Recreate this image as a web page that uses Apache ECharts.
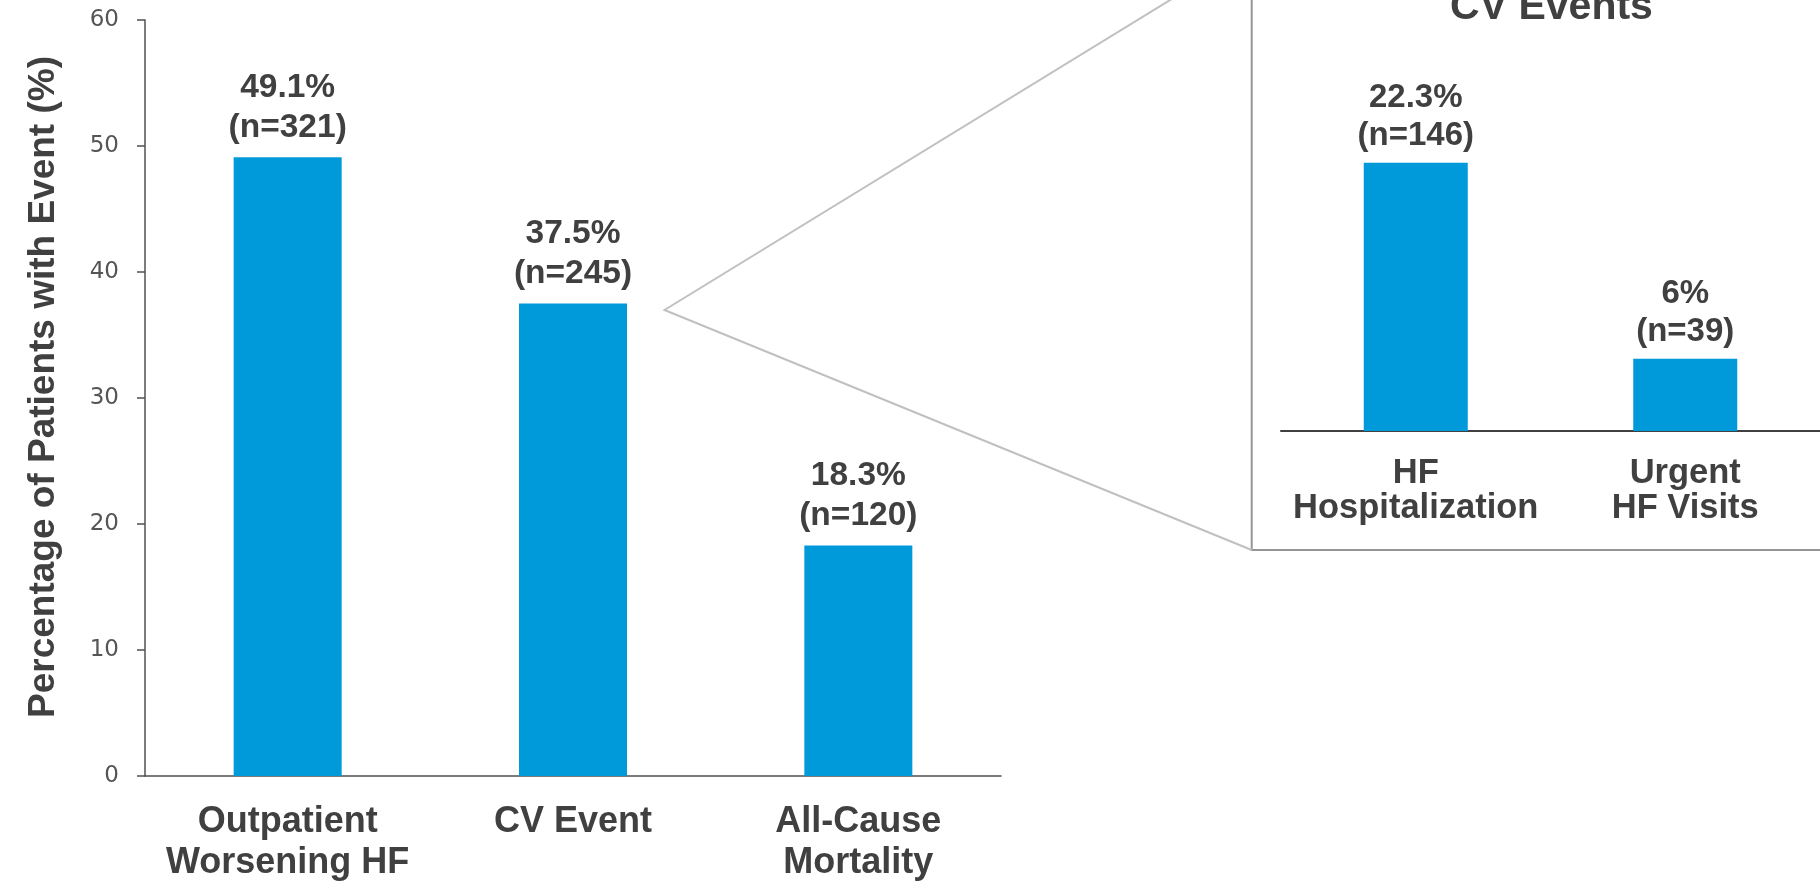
<!DOCTYPE html>
<html>
<head>
<meta charset="utf-8">
<title>Outcomes</title>
<script src="https://cdn.jsdelivr.net/npm/echarts@6/dist/echarts.min.js"></script>
<style>
  html, body { margin: 0; padding: 0; background: #ffffff; }
  #chart { width: 1820px; height: 884px; }
</style>
</head>
<body>
<div id="chart"></div>
<script>
// Main outcomes
const categories = ['Outpatient\nWorsening HF', 'CV Event', 'All-Cause\nMortality'];
const percents = [49.1, 37.5, 18.3];
const counts = [321, 245, 120];

// Breakdown of CV events
const cvCategories = ['HF\nHospitalization', 'Urgent\nHF Visits'];
const cvPercents = [22.3, 6];
const cvCounts = [146, 39];

const yMin = 0, yMax = 60, yStep = 10;
const yTitle = 'Percentage of Patients with Event (%)';
const insetTitle = 'CV Events';

const BLUE = '#0099d9';
const TEXT = '#404040';
const FONT = '"Liberation Sans", Arial, Helvetica, sans-serif';

// Inset frame (its top and right edges run off the canvas)
const frame = { left: 1251.7, top: -50, right: 1900, bottom: 550 };

const chart = echarts.init(document.getElementById('chart'), null, { renderer: 'canvas' });

function pctLabel(vals, cnts) {
  return p => vals[p.dataIndex] + '%\n(n=' + cnts[p.dataIndex] + ')';
}

const option = {
  backgroundColor: '#ffffff',
  animation: false,
  grid: [
    { left: 145, top: 20, width: 856, height: 756 },
    { left: 1281, top: 70, width: 549, height: 361 }
  ],
  xAxis: [
    {
      type: 'category', gridIndex: 0, data: categories,
      axisLine: { lineStyle: { color: '#505050', width: 1.5 } },
      axisTick: { show: false },
      axisLabel: {
        color: TEXT, fontFamily: FONT, fontWeight: 'bold', fontSize: 36,
        lineHeight: 41, margin: 25.5, interval: 0
      }
    },
    {
      type: 'category', gridIndex: 1, data: cvCategories,
      axisLine: { lineStyle: { color: '#404040', width: 2 } },
      axisTick: { show: false },
      axisLabel: {
        color: TEXT, fontFamily: FONT, fontWeight: 'bold', fontSize: 34.5,
        lineHeight: 35, margin: 25, interval: 0
      }
    }
  ],
  yAxis: [
    {
      type: 'value', gridIndex: 0, min: yMin, max: yMax, interval: yStep,
      name: yTitle, nameLocation: 'middle', nameGap: 83,
      nameTextStyle: {
        color: TEXT, fontFamily: FONT, fontWeight: 'bold', fontSize: 37,
        lineHeight: 37, padding: [0, 0, 0, 22]
      },
      axisLine: { show: true, lineStyle: { color: '#505050', width: 1.5 } },
      axisTick: { show: true, length: 8, lineStyle: { color: '#505050', width: 1.5 } },
      splitLine: { show: false },
      axisLabel: { color: '#555555', fontFamily: '"DejaVu Sans", sans-serif', fontSize: 23, margin: 26 }
    },
    {
      type: 'value', gridIndex: 1, min: 0, max: 30, show: false,
      splitLine: { show: false }
    }
  ],
  series: [
    {
      type: 'bar', xAxisIndex: 0, yAxisIndex: 0, data: percents,
      barWidth: 108, itemStyle: { color: BLUE },
      label: {
        show: true, position: 'top', distance: 9.5,
        formatter: pctLabel(percents, counts),
        color: TEXT, fontFamily: FONT, fontWeight: 'bold', fontSize: 33.5, lineHeight: 40
      }
    },
    {
      type: 'bar', xAxisIndex: 1, yAxisIndex: 1, data: cvPercents,
      barWidth: 104, itemStyle: { color: BLUE },
      label: {
        show: true, position: 'top', distance: 7.5,
        formatter: pctLabel(cvPercents, cvCounts),
        color: TEXT, fontFamily: FONT, fontWeight: 'bold', fontSize: 33, lineHeight: 38
      }
    }
  ]
};

chart.setOption(option);

// Zoom connector: from just beside the CV Event bar to the inset frame corners
const cvIndex = categories.indexOf('CV Event');
const cvTop = chart.convertToPixel({ xAxisIndex: 0, yAxisIndex: 0 }, [cvIndex, percents[cvIndex]]);
const apex = [cvTop[0] + 91.5, cvTop[1] + 6.5];

chart.setOption({
  graphic: [
    {
      type: 'rect', z: -1, silent: true,
      shape: { x: frame.left, y: frame.top, width: frame.right - frame.left, height: frame.bottom - frame.top },
      style: { fill: 'none', stroke: '#959595', lineWidth: 2 }
    },
    {
      type: 'polyline', z: -1, silent: true,
      shape: { points: [[frame.left, frame.top], apex, [frame.left, frame.bottom]] },
      style: { fill: 'none', stroke: '#c0c0c0', lineWidth: 2 }
    },
    {
      type: 'text', silent: true,
      x: 1551.5, y: 8,
      style: {
        text: insetTitle, fill: TEXT, font: 'bold 41px ' + FONT,
        align: 'center', verticalAlign: 'middle'
      }
    }
  ]
});
</script>
</body>
</html>
